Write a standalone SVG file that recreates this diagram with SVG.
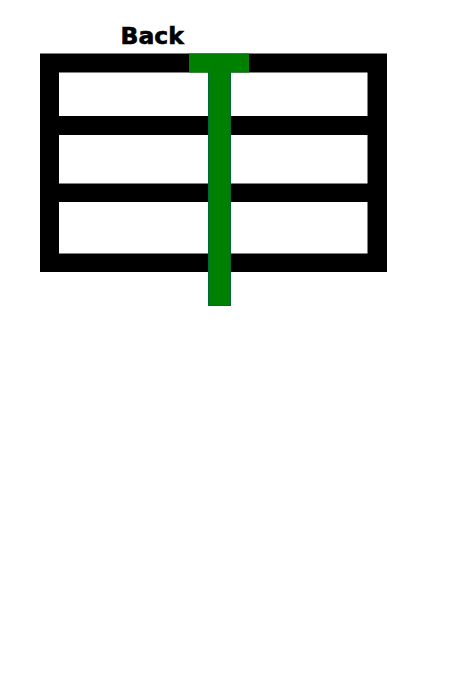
<svg xmlns="http://www.w3.org/2000/svg" width="456" height="675" viewBox="0 0 456 675">
<style>
.lbl{font-family:"DejaVu Sans",Verdana,sans-serif;font-weight:bold;font-size:23.5px;fill:#000;stroke:#000;stroke-width:0.6}
.g{fill:#008000}
</style>
<rect width="456" height="675" fill="#fff"/>
<g id="label"><text class="lbl" x="120.5" y="44">Back</text></g>
<g id="frame">
<rect x="40" y="53.5" width="347" height="218.5" fill="#000"/>
<rect x="59" y="72.5" width="308.5" height="43.5" fill="#fff"/>
<rect x="59" y="135" width="308.5" height="48.5" fill="#fff"/>
<rect x="59" y="202" width="308.5" height="51.5" fill="#fff"/>
</g>
<g id="tee">
<rect class="g" x="189" y="53.5" width="60" height="19"/>
<rect class="g" x="208.5" y="72" width="22" height="233.5" stroke="#063" stroke-width="1"/>
<rect class="g" x="209" y="70" width="21" height="4"/>
</g>
</svg>
